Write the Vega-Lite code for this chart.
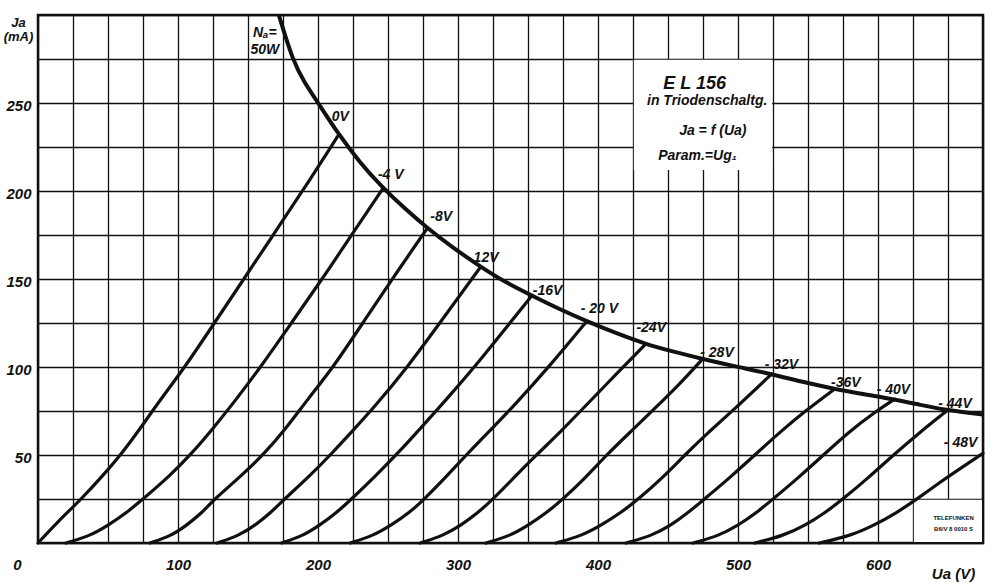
{
  "$schema": "https://vega.github.io/schema/vega-lite/v6.json",
  "width": 945,
  "height": 528,
  "autosize": "none",
  "padding": {"left": 38, "top": 15, "right": 17, "bottom": 40},
  "background": "white",
  "config": {"view": {"stroke": "#111", "strokeWidth": 2.5}, "font": "Liberation Sans"},
  "datasets": {
    "curves": [
      {"g":"0","ua":0,"ia":0},{"g":"0","ua":14,"ia":12},{"g":"0","ua":31,"ia":25},{"g":"0","ua":46,"ia":38},{"g":"0","ua":60,"ia":51},{"g":"0","ua":73,"ia":65},{"g":"0","ua":87,"ia":81},{"g":"0","ua":105,"ia":100},{"g":"0","ua":126,"ia":125},{"g":"0","ua":147,"ia":150},{"g":"0","ua":168,"ia":175},{"g":"0","ua":189,"ia":200},{"g":"0","ua":214,"ia":231},
      {"g":"-4","ua":20,"ia":0},{"g":"-4","ua":37,"ia":4},{"g":"-4","ua":50,"ia":10},{"g":"-4","ua":63,"ia":17},{"g":"-4","ua":75,"ia":25},{"g":"-4","ua":94,"ia":38},{"g":"-4","ua":110,"ia":51},{"g":"-4","ua":125,"ia":65},{"g":"-4","ua":142,"ia":82},{"g":"-4","ua":159,"ia":100},{"g":"-4","ua":181,"ia":125},{"g":"-4","ua":203,"ia":150},{"g":"-4","ua":224,"ia":175},{"g":"-4","ua":246,"ia":201},
      {"g":"-8","ua":80,"ia":0},{"g":"-8","ua":95,"ia":4},{"g":"-8","ua":106,"ia":10},{"g":"-8","ua":117,"ia":17},{"g":"-8","ua":126,"ia":25},{"g":"-8","ua":145,"ia":38},{"g":"-8","ua":162,"ia":51},{"g":"-8","ua":177,"ia":65},{"g":"-8","ua":193,"ia":82},{"g":"-8","ua":211,"ia":100},{"g":"-8","ua":232,"ia":125},{"g":"-8","ua":253,"ia":150},{"g":"-8","ua":278,"ia":178.8},
      {"g":"-12","ua":128,"ia":0},{"g":"-12","ua":143,"ia":4},{"g":"-12","ua":155,"ia":10},{"g":"-12","ua":166,"ia":17},{"g":"-12","ua":176,"ia":25},{"g":"-12","ua":194,"ia":38},{"g":"-12","ua":210,"ia":51},{"g":"-12","ua":225,"ia":64},{"g":"-12","ua":240,"ia":77},{"g":"-12","ua":264,"ia":100},{"g":"-12","ua":287,"ia":125},{"g":"-12","ua":316,"ia":156.7},
      {"g":"-16","ua":174,"ia":0},{"g":"-16","ua":189,"ia":4},{"g":"-16","ua":201,"ia":10},{"g":"-16","ua":213,"ia":17},{"g":"-16","ua":224,"ia":25},{"g":"-16","ua":241,"ia":38},{"g":"-16","ua":257,"ia":51},{"g":"-16","ua":273,"ia":65},{"g":"-16","ua":290,"ia":80},{"g":"-16","ua":314,"ia":102},{"g":"-16","ua":335,"ia":123},{"g":"-16","ua":353,"ia":140.7},
      {"g":"-20","ua":223,"ia":0},{"g":"-20","ua":239,"ia":4},{"g":"-20","ua":252,"ia":10},{"g":"-20","ua":265,"ia":17},{"g":"-20","ua":276,"ia":25},{"g":"-20","ua":292,"ia":38},{"g":"-20","ua":307,"ia":51},{"g":"-20","ua":323,"ia":64},{"g":"-20","ua":340,"ia":78},{"g":"-20","ua":366,"ia":101},{"g":"-20","ua":392,"ia":126},
      {"g":"-24","ua":273,"ia":0},{"g":"-24","ua":289,"ia":4},{"g":"-24","ua":302,"ia":10},{"g":"-24","ua":314,"ia":17},{"g":"-24","ua":325,"ia":25},{"g":"-24","ua":341,"ia":38},{"g":"-24","ua":356,"ia":50},{"g":"-24","ua":373,"ia":63},{"g":"-24","ua":390,"ia":77},{"g":"-24","ua":413,"ia":96},{"g":"-24","ua":434,"ia":113},
      {"g":"-28","ua":320,"ia":0},{"g":"-28","ua":337,"ia":4},{"g":"-28","ua":350,"ia":10},{"g":"-28","ua":363,"ia":17},{"g":"-28","ua":375,"ia":25},{"g":"-28","ua":391,"ia":37},{"g":"-28","ua":406,"ia":50},{"g":"-28","ua":423,"ia":63},{"g":"-28","ua":440,"ia":76},{"g":"-28","ua":458,"ia":90},{"g":"-28","ua":475,"ia":104.8},
      {"g":"-32","ua":370,"ia":0},{"g":"-32","ua":388,"ia":4},{"g":"-32","ua":402,"ia":10},{"g":"-32","ua":416,"ia":17},{"g":"-32","ua":429,"ia":25},{"g":"-32","ua":446,"ia":37},{"g":"-32","ua":462,"ia":50},{"g":"-32","ua":479,"ia":63},{"g":"-32","ua":496,"ia":75},{"g":"-32","ua":524,"ia":96},
      {"g":"-36","ua":420,"ia":0},{"g":"-36","ua":438,"ia":4},{"g":"-36","ua":452,"ia":10},{"g":"-36","ua":464,"ia":17},{"g":"-36","ua":476,"ia":25},{"g":"-36","ua":494,"ia":37},{"g":"-36","ua":512,"ia":50},{"g":"-36","ua":530,"ia":63},{"g":"-36","ua":548,"ia":75},{"g":"-36","ua":569,"ia":87.5},
      {"g":"-40","ua":468,"ia":0},{"g":"-40","ua":486,"ia":4},{"g":"-40","ua":500,"ia":10},{"g":"-40","ua":513,"ia":17},{"g":"-40","ua":525,"ia":25},{"g":"-40","ua":543,"ia":37},{"g":"-40","ua":561,"ia":50},{"g":"-40","ua":579,"ia":63},{"g":"-40","ua":597,"ia":74},{"g":"-40","ua":612,"ia":81.7},
      {"g":"-44","ua":512,"ia":0},{"g":"-44","ua":532,"ia":4},{"g":"-44","ua":548,"ia":10},{"g":"-44","ua":562,"ia":17},{"g":"-44","ua":575,"ia":25},{"g":"-44","ua":593,"ia":37},{"g":"-44","ua":611,"ia":50},{"g":"-44","ua":630,"ia":63},{"g":"-44","ua":649,"ia":75},
      {"g":"-48","ua":558,"ia":0},{"g":"-48","ua":580,"ia":4},{"g":"-48","ua":597,"ia":10},{"g":"-48","ua":613,"ia":17},{"g":"-48","ua":628,"ia":25},{"g":"-48","ua":645,"ia":35},{"g":"-48","ua":660,"ia":43},{"g":"-48","ua":675,"ia":51}
    ],
    "power": [
      {"ua":172,"ia":300},{"ua":182,"ia":274},{"ua":190,"ia":262},{"ua":201,"ia":249},{"ua":214,"ia":233},{"ua":230,"ia":216},{"ua":246,"ia":202},{"ua":262,"ia":190},{"ua":278,"ia":179},{"ua":296,"ia":168},{"ua":316,"ia":157},{"ua":334,"ia":148},{"ua":353,"ia":140.5},{"ua":372,"ia":133},{"ua":392,"ia":126},{"ua":412,"ia":119.5},{"ua":434,"ia":113},{"ua":455,"ia":108.5},{"ua":475,"ia":104.5},{"ua":500,"ia":100},{"ua":524,"ia":96},{"ua":546,"ia":91.5},{"ua":569,"ia":87.5},{"ua":590,"ia":84.5},{"ua":612,"ia":81.5},{"ua":630,"ia":78.5},{"ua":649,"ia":75.5},{"ua":675,"ia":73}
    ],
    "boxes": [
      {"ua":425.6,"ua2":524.4,"ia":212,"ia2":274.6},
      {"ua":625.6,"ua2":674.2,"ia":0.6,"ia2":24.6}
    ],
    "curveLabels": [
      {"t":"0V","ua":216,"ia":242},
      {"t":"-4 V","ua":252,"ia":209},
      {"t":"-8V","ua":288,"ia":185},
      {"t":"- 12V","ua":317,"ia":162},
      {"t":"-16V","ua":364,"ia":143},
      {"t":"- 20 V","ua":401,"ia":133},
      {"t":"-24V","ua":438,"ia":122},
      {"t":"- 28V","ua":485,"ia":108},
      {"t":"- 32V","ua":531,"ia":101},
      {"t":"-36V","ua":577,"ia":91},
      {"t":"- 40V","ua":611,"ia":87},
      {"t":"- 44V","ua":655,"ia":79},
      {"t":"- 48V","ua":659,"ia":57},
      {"t":"Nₐ=","ua":162,"ia":290},
      {"t":"50W","ua":162,"ia":280}
    ],
    "title": [{"t":"E L  156","ua":469,"ia":261}],
    "boxText": [
      {"t":"in Triodenschaltg.","ua":478,"ia":251},
      {"t":"Ja = f  (Ua)","ua":482,"ia":234},
      {"t":"Param.=Ug₁","ua":471,"ia":220}
    ],
    "maker": [
      {"t":"TELEFUNKEN","ua":654,"ia":14},
      {"t":"B6/V  8 0010 S","ua":654,"ia":8}
    ]
  },
  "encoding": {
    "x": {
      "field": "ua", "type": "quantitative",
      "scale": {"domain": [0, 675], "nice": false, "zero": false},
      "axis": {
        "values": [0,25,50,75,100,125,150,175,200,225,250,275,300,325,350,375,400,425,450,475,500,525,550,575,600,625,650,675],
        "grid": true, "gridColor": "#111", "gridWidth": 1.3, "gridOpacity": 1,
        "ticks": false, "domain": false,
        "labelExpr": "datum.value % 100 === 0 ? datum.label : ''",
        "labelOverlap": false, "labelFlush": false,
        "labelFont": "Liberation Sans", "labelFontSize": 15, "labelFontWeight": "bold", "labelFontStyle": "italic",
        "labelColor": "#111", "labelPadding": 14, "labelBaseline": "top",
        "labelOffset": {"condition": {"test": "datum.value === 0", "value": -21}, "value": 0},
        "title": "Ua (V)", "titleX": 915, "titleY": 30, "titleAlign": "center", "titleBaseline": "middle",
        "titleFont": "Liberation Sans", "titleFontSize": 15, "titleFontWeight": "bold", "titleFontStyle": "italic", "titleColor": "#111"
      }
    },
    "y": {
      "field": "ia", "type": "quantitative",
      "scale": {"domain": [0, 300], "nice": false, "zero": false},
      "axis": {
        "values": [0,25,50,75,100,125,150,175,200,225,250,275,300],
        "grid": true, "gridColor": "#111", "gridWidth": 1.3, "gridOpacity": 1,
        "ticks": false, "domain": false,
        "labelExpr": "datum.value % 50 === 0 && datum.value > 0 && datum.value < 300 ? datum.label : ''",
        "labelOverlap": false, "labelFlush": false,
        "labelFont": "Liberation Sans", "labelFontSize": 15, "labelFontWeight": "bold", "labelFontStyle": "italic",
        "labelColor": "#111", "labelPadding": 7, "labelOffset": 2,
        "title": ["Ja", "(mA)"], "titleAngle": 0, "titleX": -20, "titleY": 1, "titleAlign": "center", "titleBaseline": "top",
        "titleLineHeight": 14,
        "titleFont": "Liberation Sans", "titleFontSize": 13, "titleFontWeight": "bold", "titleFontStyle": "italic", "titleColor": "#111"
      }
    }
  },
  "layer": [
    {
      "data": {"name": "boxes"},
      "mark": {"type": "rect", "fill": "white", "stroke": null},
      "encoding": {"x2": {"field": "ua2"}, "y2": {"field": "ia2"}}
    },
    {
      "data": {"name": "curves"},
      "mark": {"type": "line", "color": "#111", "strokeWidth": 3.2, "interpolate": "basis", "strokeCap": "round", "strokeJoin": "round"},
      "encoding": {"detail": {"field": "g", "type": "nominal"}}
    },
    {
      "data": {"name": "power"},
      "mark": {"type": "line", "color": "#111", "strokeWidth": 4, "interpolate": "basis", "strokeCap": "butt"},
      "encoding": {}
    },
    {
      "data": {"name": "curveLabels"},
      "mark": {"type": "text", "font": "Liberation Sans", "fontSize": 14, "fontWeight": "bold", "fontStyle": "italic", "color": "#111", "align": "center", "baseline": "middle"},
      "encoding": {"text": {"field": "t"}}
    },
    {
      "data": {"name": "title"},
      "mark": {"type": "text", "font": "Liberation Sans", "fontSize": 18, "fontWeight": "bold", "fontStyle": "italic", "color": "#111", "align": "center", "baseline": "middle"},
      "encoding": {"text": {"field": "t"}}
    },
    {
      "data": {"name": "boxText"},
      "mark": {"type": "text", "font": "Liberation Sans", "fontSize": 14, "fontWeight": "bold", "fontStyle": "italic", "color": "#111", "align": "center", "baseline": "middle"},
      "encoding": {"text": {"field": "t"}}
    },
    {
      "data": {"name": "maker"},
      "mark": {"type": "text", "font": "Liberation Sans", "fontSize": 6, "fontWeight": "bold", "color": "#111", "align": "center", "baseline": "middle"},
      "encoding": {"text": {"field": "t"}}
    }
  ]
}
